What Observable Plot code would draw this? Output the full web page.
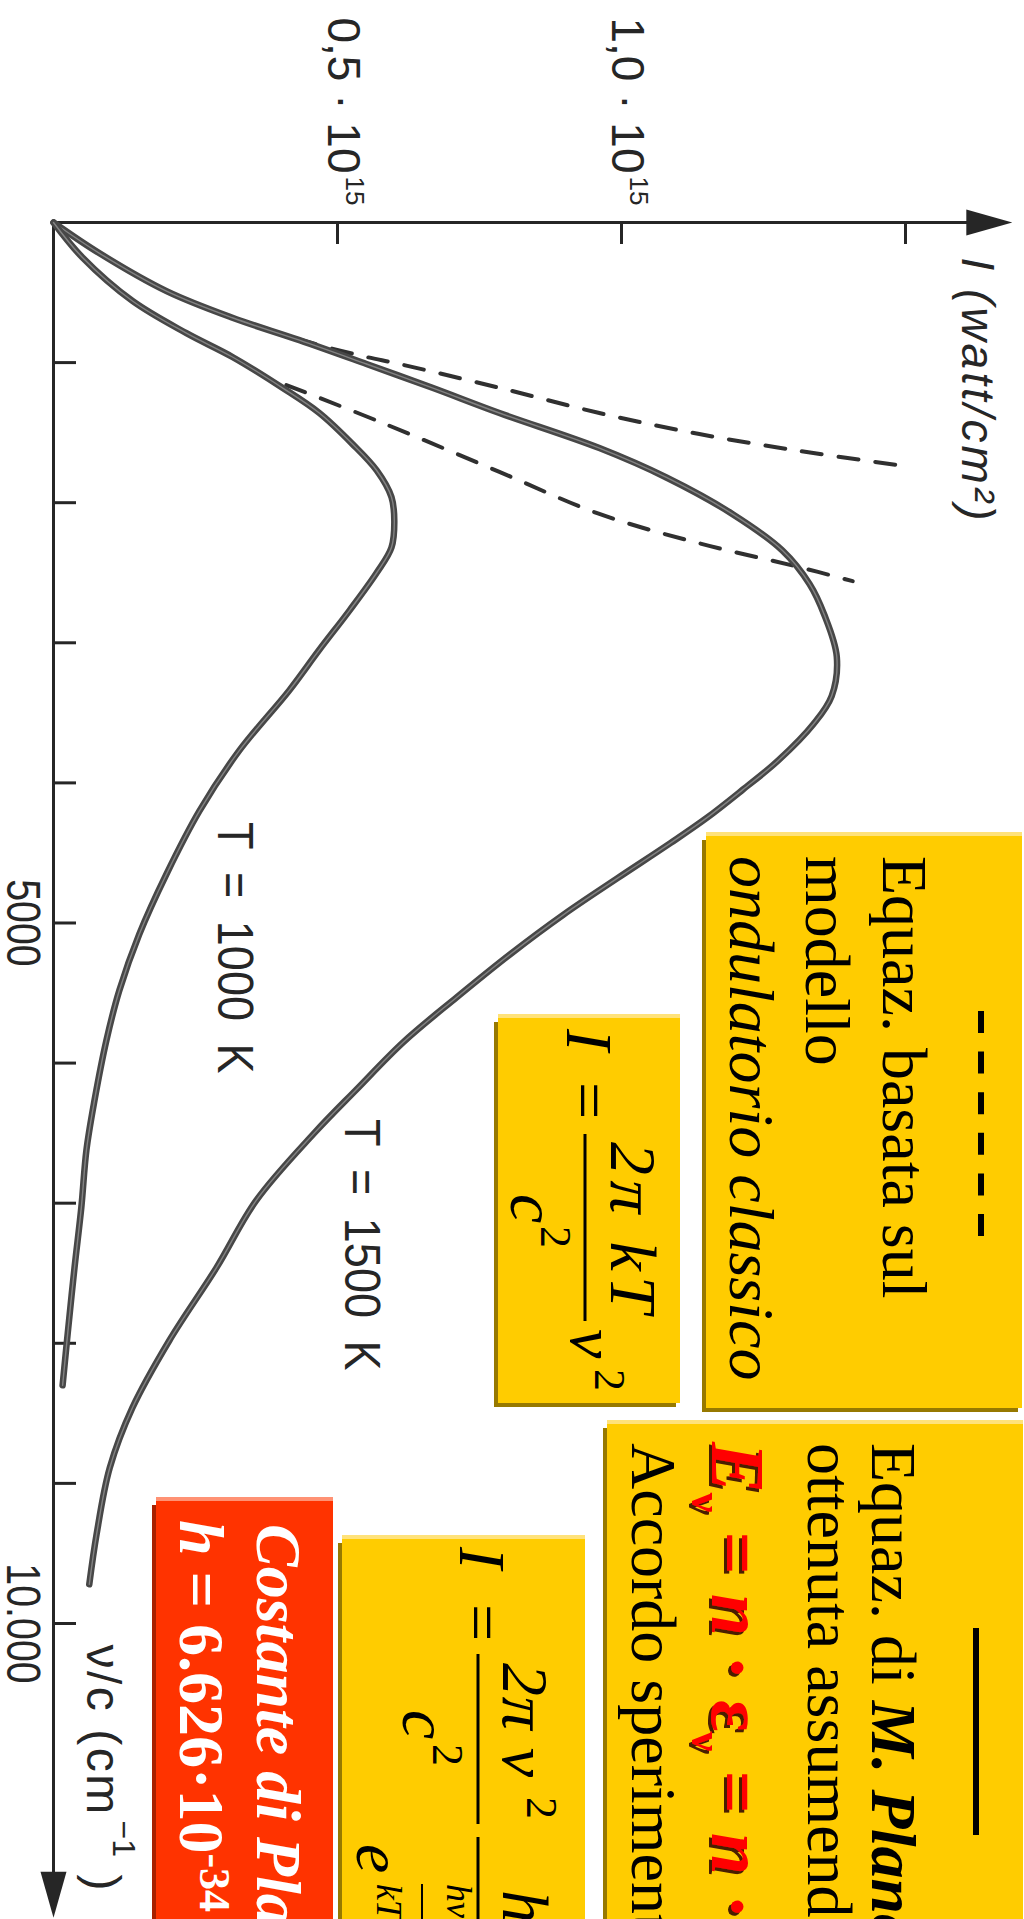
<!DOCTYPE html>
<html lang="it">
<head>
<meta charset="utf-8">
<title>Radiazione del corpo nero</title>
<script src="https://cdn.jsdelivr.net/npm/d3@7"></script>
<script src="https://cdn.jsdelivr.net/npm/@observablehq/plot@0.6"></script>
<style>
  html, body { margin: 0; padding: 0; background: #fff; width: 1024px; height: 1919px; overflow: hidden; }
  /* the slide is laid out landscape and turned a quarter clockwise */
  #slide { position: absolute; left: 0; top: 0; width: 1919px; height: 1024px;
           transform-origin: 0 0; transform: translate(1024px, 0) rotate(90deg);
           overflow: hidden; background: #fff; }
  #slide > svg { position: absolute; left: 0; top: 0; }
</style>
</head>
<body>
<div id="slide"></div>
<script>
// Wavenumber ν/c in cm⁻¹, intensity I in units of 10^15 watt/cm²

// Planck curve, T = 1000 K
const nu1000  = [0, 250, 560, 790, 960, 1180, 1360, 1580, 1770, 1960, 2130, 2320, 2500, 2770, 3050, 3340,
                 3770, 4200, 4650, 5080, 5480, 5840, 6270, 6620, 7030, 7460, 7930, 8300];
const int1000 = [0, 0.051, 0.139, 0.234, 0.315, 0.403, 0.468, 0.526, 0.569, 0.595, 0.600, 0.595, 0.569, 0.521, 0.468, 0.415,
                 0.327, 0.257, 0.199, 0.151, 0.116, 0.093, 0.072, 0.058, 0.049, 0.037, 0.025, 0.016];

// Planck curve, T = 1500 K
const nu1500  = [0, 220, 490, 680, 840, 1010, 1180, 1360, 1610, 1820, 2080, 2340, 2580, 2800, 3100, 3380,
                 3580, 3840, 4050, 4250, 4430, 4680, 4940, 5220, 5530, 5850, 6190, 6500, 6980, 7460, 7980,
                 8460, 8890, 9360, 9720];
const int1500 = [0, 0.081, 0.199, 0.315, 0.433, 0.551, 0.667, 0.785, 0.961, 1.079, 1.195, 1.283, 1.331, 1.357, 1.379, 1.370,
                 1.338, 1.276, 1.213, 1.150, 1.086, 0.993, 0.898, 0.805, 0.710, 0.616, 0.533, 0.459, 0.357, 0.287, 0.204,
                 0.139, 0.099, 0.076, 0.063];

// classical (wave model) prediction, dashed
const nuRJ1000  = [1160, 1430, 1780, 2080, 2290, 2460, 2560];
const intRJ1000 = [0.410, 0.579, 0.785, 0.961, 1.137, 1.313, 1.407];
const nuRJ1500  = [830, 890, 960, 1010, 1180, 1360, 1510, 1630, 1730];
const intRJ1500 = [0.428, 0.481, 0.551, 0.609, 0.785, 0.961, 1.137, 1.313, 1.484];

// axes
const nuTicks   = [1000, 2000, 3000, 4000, 5000, 6000, 7000, 8000, 9000, 10000];
const nuLabels  = [{nu: 5000, label: "5000"}, {nu: 10000, label: "10.000"}];
const intTicks  = [0.5, 1.0, 1.5];
const intLabels = [{i: 0.5, label: "0,5 · 10", exp: "15"}, {i: 1.0, label: "1,0 · 10", exp: "15"}];
const axisTips  = [{nu: 12100, i: 0, angle: 90}, {nu: 0, i: 1.688, angle: 0}];
const curveLabels = [{nu: 4280, i: 0.289, label: "T\u2002=\u20021000\u2002K"},
                     {nu: 6400, i: 0.514, label: "T\u2002=\u20021500\u2002K"}];

const rows = (nu, val) => nu.map((n, k) => ({nu: n, i: val[k]}));
const planck1000 = rows(nu1000, int1000);
const planck1500 = rows(nu1500, int1500);
const classic1000 = rows(nuRJ1000, intRJ1000);
const classic1500 = rows(nuRJ1500, intRJ1500);

const INK = "#262626";
const SANS = "'Liberation Sans', Arial, sans-serif";
const SERIF = "'Liberation Serif', 'Times New Roman', serif";

// filled, slender arrowhead with its tip on the anchor point, pointing up before rotation
const arrowHead = {
  draw(ctx) {
    ctx.moveTo(0, 0);
    ctx.lineTo(13, 46);
    ctx.lineTo(-13, 46);
    ctx.closePath();
  }
};

const curveMarks = (data) => [
  Plot.line(data, {x: "nu", y: "i", curve: "catmull-rom", stroke: "#474747", strokeWidth: 6.5}),
  Plot.line(data, {x: "nu", y: "i", curve: "catmull-rom", stroke: "#9c9c9c", strokeWidth: 1.4, strokeOpacity: 0.7})
];

const plot = Plot.plot({
  width: 1919,
  height: 1024,
  marginLeft: 222, marginRight: 0, marginTop: 0, marginBottom: 54,
  x: {domain: [0, 12113], axis: null},
  y: {domain: [0, 1.7077], axis: null},
  style: {background: "transparent", fontFamily: SANS, color: INK, overflow: "visible"},
  marks: [
    // axes with arrowheads
    Plot.ruleY([0], {x1: 0, x2: axisTips[0].nu - 200, stroke: INK, strokeWidth: 3}),
    Plot.ruleX([0], {y1: 0, y2: axisTips[1].i - 0.04, stroke: INK, strokeWidth: 3}),
    Plot.dot(axisTips, {x: "nu", y: "i", rotate: "angle", symbol: arrowHead, r: 10, fill: INK, stroke: "none"}),
    Plot.tickX(nuTicks, {x: d => d, insetTop: 948, stroke: INK, strokeWidth: 3}),
    Plot.tickY(intTicks, {y: d => d, insetRight: 1675, stroke: INK, strokeWidth: 3}),

    // tick labels
    Plot.text(nuLabels, {x: "nu", text: "label", frameAnchor: "bottom", dy: 31, lineAnchor: "middle",
                         fontSize: 48, fill: INK}),
    Plot.text(intLabels, {y: "i", text: "label", frameAnchor: "left", textAnchor: "end", dx: -49, dy: -5,
                          lineAnchor: "middle", fontSize: 46, fill: INK}),
    Plot.text(intLabels, {y: "i", text: "exp", frameAnchor: "left", textAnchor: "start", dx: -46, dy: -17,
                          lineAnchor: "middle", fontSize: 26, fill: INK}),

    // axis titles
    Plot.text(["I (watt/cm²)"], {frameAnchor: "top-left", dx: 35, dy: 62, textAnchor: "start", lineAnchor: "bottom",
                                 fontSize: 46, fontStyle: "italic", fill: INK}),
    Plot.text(["ν/c (cm"], {frameAnchor: "bottom-left", dx: 1422, dy: -33, textAnchor: "start", lineAnchor: "bottom",
                            fontSize: 48, fill: INK}),
    Plot.text(["−1"], {frameAnchor: "bottom-left", dx: 1598, dy: -59, textAnchor: "start", lineAnchor: "bottom",
                       fontSize: 32, fill: INK}),
    Plot.text([")"], {frameAnchor: "bottom-left", dx: 1652, dy: -33, textAnchor: "start", lineAnchor: "bottom",
                      fontSize: 48, fill: INK}),

    // classical prediction (dashed) and Planck curves
    Plot.line(classic1500, {x: "nu", y: "i", curve: "catmull-rom", stroke: "#303030", strokeWidth: 4, strokeDasharray: "20,17"}),
    Plot.line(classic1000, {x: "nu", y: "i", curve: "catmull-rom", stroke: "#303030", strokeWidth: 4, strokeDasharray: "20,17"}),
    ...curveMarks(planck1500),
    ...curveMarks(planck1000),

    Plot.text(curveLabels, {x: "nu", y: "i", text: "label", textAnchor: "start", lineAnchor: "bottom",
                            fontSize: 50, fill: INK})
  ]
});

// the printed figure uses a condensed face for its numerals and widely spaced titles
const squeeze = new Map([["5000", 0.82], ["10.000", 0.82],
                         [curveLabels[0].label, 0.9], [curveLabels[1].label, 0.9]]);
const spacing = new Map([["I (watt/cm²)", 3], ["ν/c (cm", 2.5]]);
d3.select(plot).selectAll("text").each(function () {
  const s = squeeze.get(this.textContent);
  if (s) this.setAttribute("transform", (this.getAttribute("transform") || "") + ` scale(${s},1)`);
  const ls = spacing.get(this.textContent);
  if (ls) this.setAttribute("letter-spacing", ls);
});

const slide = document.getElementById("slide");
slide.appendChild(plot);

// ---- slide panels with the formulas ----
const ov = d3.create("svg").attr("width", 1919).attr("height", 1024)
  .style("font-family", SERIF).style("white-space", "pre");
const defs = ov.append("defs");
defs.append("filter").attr("id", "redShadow").attr("x", "-10%").attr("y", "-10%").attr("width", "130%").attr("height", "140%")
  .append("feDropShadow").attr("dx", 3).attr("dy", 3).attr("stdDeviation", 0.6)
  .attr("flood-color", "#2a0000").attr("flood-opacity", 0.85);

const YELLOW = {main: "#ffcc00", dark: "#977900", light: "#ffe27a"};
const RED = {main: "#ff3300", dark: "#a82100", light: "#ff9274"};

function panel(x0, y0, x1, y1, c) {
  const g = ov.append("g");
  g.append("rect").attr("x", x0 + 8).attr("y", y0 + 4).attr("width", x1 - x0 - 8).attr("height", y1 - y0 - 4).attr("fill", c.dark);
  g.append("rect").attr("x", x0 + 4).attr("y", y0).attr("width", x1 - x0 - 8).attr("height", y1 - y0 - 4).attr("fill", c.main);
  g.append("rect").attr("x", x0).attr("y", y0).attr("width", 4).attr("height", y1 - y0 - 4).attr("fill", c.light);
}

function line(x1, x2, y, w, dash) {
  const l = ov.append("line").attr("x1", x1).attr("x2", x2).attr("y1", y).attr("y2", y)
    .attr("stroke", "#000").attr("stroke-width", w);
  if (dash) l.attr("stroke-dasharray", dash);
}

// parts: [text, {size, italic, bold, dy, fill}]
function text(x, y, size, parts, attrs = {}) {
  const t = ov.append("text").attr("x", x).attr("y", y).attr("font-size", size).attr("fill", "#000");
  for (const [k, v] of Object.entries(attrs)) t.attr(k, v);
  for (const [s, o = {}] of parts) {
    const sp = t.append("tspan").text(s);
    if (o.size) sp.attr("font-size", o.size);
    if (o.italic) sp.attr("font-style", "italic");
    if (o.bold) sp.attr("font-weight", "bold");
    if (o.dy) sp.attr("dy", o.dy);
    if (o.fill) sp.attr("fill", o.fill);
  }
  return t;
}

// classical model
panel(832, 2, 1412, 322, YELLOW);
line(1011, 1236, 43, 6, "22,18.6");
text(856, 141, 64, [["Equaz. basata sul"]]);
text(856, 218, 64, [["modello"]]);
text(856, 294, 64, [["ondulatorio classico", {italic: true}]]);

panel(1014, 344, 1407, 530, YELLOW);
text(1029, 457, 66, [["I", {italic: true}]]);
text(1082, 457, 66, [["="]]);
line(1134, 1321, 439, 3);
text(1142, 413, 66, [["2π kT", {italic: true}]], {textLength: 171, lengthAdjust: "spacing"});
text(1194, 513, 66, [["c", {italic: true}]]);
text(1226, 483, 44, [["2"]]);
text(1329, 453, 66, [["ν", {italic: true}]]);
text(1369, 429, 44, [["2"]]);

// Planck's law
panel(1420, 1, 1935, 421, YELLOW);
line(1628, 1835, 48, 6);
text(1443, 152, 64, [["Equaz. di "], ["M. Planck", {italic: true, bold: true}]]);
text(1443, 216, 64, [["ottenuta assumendo che"]]);
text(1442, 312, 76, [
  ["E", {italic: true}], ["ν", {size: 44, dy: 20}], [" = ", {dy: -20}], ["n", {italic: true}],
  [" · ε"], ["ν", {size: 44, dy: 20}], [" = ", {dy: -20}], ["n", {italic: true}], [" · "], ["h", {italic: true}], ["ν"]
], {fill: "#ff0000", "font-weight": "bold", filter: "url(#redShadow)"});
text(1443, 392, 64, [["Accordo sperimentale"]]);

panel(1535, 439, 1935, 686, YELLOW);
text(1547, 564, 66, [["I", {italic: true}]]);
text(1604, 564, 66, [["="]]);
line(1654, 1824, 546, 3);
text(1663, 521, 66, [["2π ν", {italic: true}]], {textLength: 114, lengthAdjust: "spacing"});
text(1797, 497, 44, [["2"]]);
text(1710, 621, 66, [["c", {italic: true}]]);
text(1744, 591, 44, [["2"]]);
line(1837, 2010, 546, 3);
text(1890, 521, 66, [["hν", {italic: true}]]);
text(1844, 667, 66, [["e", {italic: true}]]);
text(1884, 577, 36, [["hν", {italic: true}]]);
line(1884, 1925, 602, 2);
text(1884, 647, 36, [["kT", {italic: true}]]);
text(1935, 667, 66, [[" − 1"]]);

// Planck's constant
panel(1497, 691, 1935, 872, RED);
text(1524, 767, 64, [["Costante di Planck", {italic: true}]], {fill: "#fff", "font-weight": "bold"});
text(1520, 844, 64, [["h", {italic: true}], [" = 6.626·10"], ["-34", {size: 44, dy: -20}], [" J·s", {dy: 20}]],
     {fill: "#fff", "font-weight": "bold"});

slide.appendChild(ov.node());
</script>
</body>
</html>
